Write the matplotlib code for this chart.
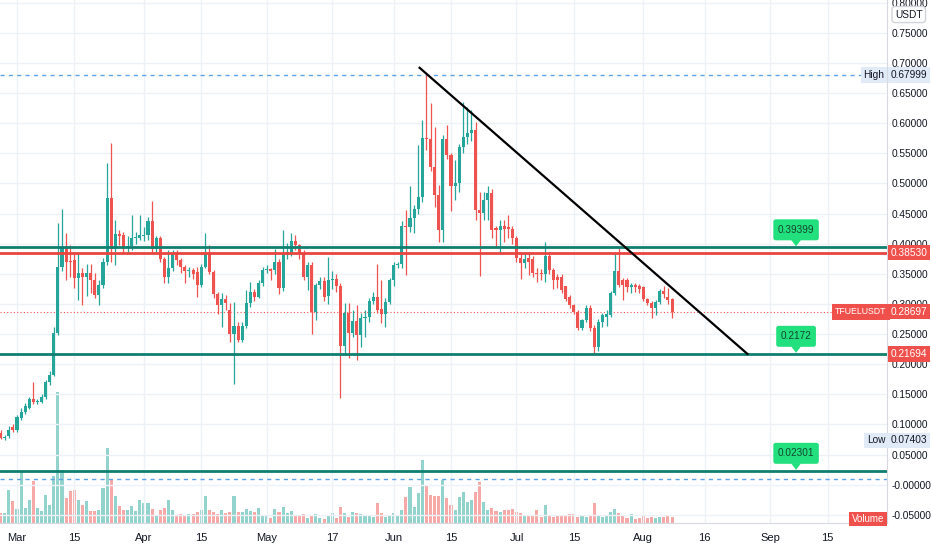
import numpy as np
import pandas as pd
import matplotlib
matplotlib.use("Agg")
import matplotlib.pyplot as plt
import matplotlib.transforms as mtransforms
from matplotlib.patches import FancyBboxPatch, Polygon

plt.rcParams['font.family'] = ['Liberation Sans', 'DejaVu Sans']

# daily TFUEL/USDT candles, first candle 2021-02-25
start_date = "2021-02-25"
opens = [0.086, 0.077, 0.080, 0.095, 0.091, 0.111, 0.121, 0.128, 0.142, 0.138, 0.138, 0.145, 0.170, 0.182, 0.251,
         0.362, 0.393, 0.372, 0.373, 0.343, 0.351, 0.344, 0.351, 0.340, 0.315, 0.331, 0.370, 0.476, 0.391, 0.416,
         0.414, 0.393, 0.397, 0.409, 0.410, 0.413, 0.414, 0.437, 0.392, 0.409, 0.375, 0.345, 0.359, 0.384, 0.373,
         0.361, 0.354, 0.357, 0.353, 0.331, 0.362, 0.384, 0.353, 0.317, 0.298, 0.309, 0.290, 0.250, 0.263, 0.240,
         0.263, 0.301, 0.319, 0.312, 0.334, 0.357, 0.358, 0.356, 0.370, 0.327, 0.382, 0.385, 0.404, 0.398, 0.385,
         0.345, 0.364, 0.286, 0.331, 0.338, 0.313, 0.340, 0.342, 0.329, 0.230, 0.285, 0.252, 0.272, 0.248, 0.277,
         0.279, 0.305, 0.311, 0.292, 0.284, 0.303, 0.339, 0.365, 0.366, 0.430, 0.428, 0.442, 0.457, 0.477, 0.576,
         0.573, 0.528, 0.481, 0.422, 0.573, 0.547, 0.496, 0.500, 0.560, 0.577, 0.584, 0.588, 0.456, 0.451, 0.473,
         0.484, 0.426, 0.423, 0.430, 0.428, 0.425, 0.409, 0.376, 0.368, 0.376, 0.374, 0.352, 0.352, 0.350, 0.380,
         0.357, 0.344, 0.344, 0.329, 0.311, 0.298, 0.287, 0.260, 0.273, 0.294, 0.260, 0.229, 0.270, 0.279, 0.282,
         0.318, 0.355, 0.340, 0.339, 0.328, 0.331, 0.330, 0.328, 0.308, 0.302, 0.293, 0.304, 0.322, 0.311, 0.309]
highs = [0.090, 0.083, 0.097, 0.100, 0.115, 0.128, 0.135, 0.146, 0.170, 0.143, 0.150, 0.173, 0.188, 0.262, 0.435,
         0.458, 0.417, 0.398, 0.384, 0.385, 0.360, 0.367, 0.367, 0.352, 0.340, 0.376, 0.534, 0.567, 0.440, 0.423,
         0.420, 0.412, 0.448, 0.420, 0.448, 0.428, 0.445, 0.471, 0.412, 0.412, 0.378, 0.390, 0.390, 0.390, 0.376,
         0.365, 0.362, 0.360, 0.362, 0.366, 0.417, 0.398, 0.357, 0.320, 0.318, 0.315, 0.301, 0.304, 0.270, 0.270,
         0.323, 0.337, 0.325, 0.340, 0.362, 0.365, 0.360, 0.392, 0.375, 0.423, 0.401, 0.417, 0.414, 0.400, 0.390,
         0.370, 0.370, 0.335, 0.345, 0.345, 0.378, 0.355, 0.350, 0.335, 0.301, 0.301, 0.290, 0.298, 0.285, 0.290,
         0.310, 0.320, 0.366, 0.339, 0.310, 0.343, 0.370, 0.370, 0.437, 0.456, 0.496, 0.465, 0.564, 0.605, 0.680,
         0.633, 0.594, 0.497, 0.580, 0.597, 0.550, 0.539, 0.565, 0.636, 0.627, 0.622, 0.602, 0.486, 0.486, 0.496,
         0.490, 0.430, 0.440, 0.440, 0.448, 0.430, 0.413, 0.384, 0.385, 0.387, 0.380, 0.360, 0.358, 0.403, 0.385,
         0.360, 0.350, 0.350, 0.330, 0.315, 0.300, 0.290, 0.275, 0.298, 0.298, 0.265, 0.275, 0.285, 0.290, 0.322,
         0.384, 0.393, 0.343, 0.343, 0.335, 0.335, 0.333, 0.330, 0.310, 0.305, 0.307, 0.325, 0.329, 0.326, 0.310]
lows = [0.076, 0.074, 0.078, 0.088, 0.088, 0.108, 0.118, 0.125, 0.134, 0.134, 0.136, 0.143, 0.165, 0.180, 0.249,
        0.355, 0.340, 0.345, 0.326, 0.307, 0.298, 0.314, 0.318, 0.310, 0.298, 0.326, 0.365, 0.370, 0.365, 0.398,
        0.385, 0.384, 0.390, 0.400, 0.406, 0.405, 0.406, 0.385, 0.385, 0.370, 0.334, 0.334, 0.355, 0.365, 0.351,
        0.334, 0.345, 0.342, 0.312, 0.328, 0.360, 0.350, 0.310, 0.284, 0.262, 0.290, 0.237, 0.167, 0.237, 0.237,
        0.260, 0.295, 0.305, 0.310, 0.330, 0.352, 0.340, 0.350, 0.317, 0.322, 0.375, 0.380, 0.390, 0.375, 0.340,
        0.323, 0.250, 0.274, 0.325, 0.305, 0.300, 0.325, 0.320, 0.144, 0.215, 0.210, 0.245, 0.207, 0.229, 0.245,
        0.270, 0.300, 0.285, 0.268, 0.262, 0.300, 0.329, 0.360, 0.360, 0.348, 0.420, 0.417, 0.450, 0.470, 0.556,
        0.520, 0.461, 0.403, 0.403, 0.540, 0.455, 0.472, 0.486, 0.550, 0.565, 0.570, 0.440, 0.346, 0.440, 0.440,
        0.409, 0.395, 0.384, 0.403, 0.410, 0.400, 0.370, 0.342, 0.360, 0.348, 0.345, 0.337, 0.340, 0.337, 0.350,
        0.324, 0.326, 0.318, 0.305, 0.293, 0.283, 0.257, 0.256, 0.270, 0.255, 0.217, 0.222, 0.262, 0.264, 0.278,
        0.315, 0.328, 0.307, 0.320, 0.318, 0.320, 0.318, 0.305, 0.298, 0.276, 0.282, 0.300, 0.310, 0.300, 0.276]
closes = [0.077, 0.079, 0.091, 0.091, 0.112, 0.121, 0.130, 0.142, 0.138, 0.139, 0.146, 0.170, 0.182, 0.251, 0.362,
          0.395, 0.370, 0.370, 0.343, 0.351, 0.344, 0.351, 0.340, 0.315, 0.331, 0.370, 0.476, 0.391, 0.416, 0.413,
          0.392, 0.397, 0.409, 0.411, 0.414, 0.415, 0.438, 0.392, 0.409, 0.375, 0.345, 0.359, 0.384, 0.373, 0.361,
          0.354, 0.357, 0.350, 0.331, 0.362, 0.384, 0.353, 0.317, 0.298, 0.309, 0.301, 0.250, 0.263, 0.240, 0.263,
          0.301, 0.319, 0.312, 0.334, 0.357, 0.358, 0.354, 0.370, 0.327, 0.384, 0.387, 0.404, 0.398, 0.384, 0.345,
          0.364, 0.286, 0.331, 0.338, 0.312, 0.340, 0.342, 0.329, 0.230, 0.285, 0.252, 0.272, 0.248, 0.277, 0.279,
          0.305, 0.311, 0.290, 0.284, 0.303, 0.339, 0.365, 0.367, 0.430, 0.428, 0.442, 0.457, 0.477, 0.576, 0.573,
          0.528, 0.481, 0.422, 0.573, 0.547, 0.496, 0.500, 0.560, 0.577, 0.584, 0.588, 0.456, 0.451, 0.473, 0.484,
          0.423, 0.422, 0.430, 0.425, 0.425, 0.409, 0.376, 0.368, 0.374, 0.370, 0.352, 0.350, 0.350, 0.380, 0.357,
          0.339, 0.340, 0.323, 0.309, 0.298, 0.287, 0.260, 0.273, 0.294, 0.260, 0.229, 0.270, 0.282, 0.284, 0.318,
          0.355, 0.331, 0.331, 0.328, 0.331, 0.328, 0.324, 0.308, 0.302, 0.293, 0.304, 0.322, 0.316, 0.306, 0.287]
volumes = [10, 10, 33, 22, 14, 52, 15, 23, 42, 15, 12, 28, 18, 47, 131, 53, 25, 32, 33, 23, 18, 22, 12, 12, 13,
           35, 75, 43, 27, 17, 13, 13, 17, 12, 23, 20, 20, 14, 8, 13, 15, 23, 13, 8, 9, 8, 9, 9, 11, 13, 27, 13,
           11, 9, 13, 10, 11, 27, 11, 11, 14, 12, 11, 15, 8, 7, 5, 14, 11, 16, 10, 12, 7, 7, 9, 5, 7, 9, 5, 4, 7,
           10, 5, 16, 10, 6, 11, 10, 9, 7, 7, 6, 20, 10, 6, 7, 10, 7, 13, 26, 36, 16, 30, 63, 38, 28, 27, 27, 43,
           25, 18, 13, 26, 31, 21, 23, 31, 41, 21, 13, 15, 12, 11, 13, 13, 14, 11, 10, 7, 7, 8, 13, 6, 18, 8, 6, 7,
           7, 8, 9, 9, 6, 8, 6, 8, 20, 8, 6, 8, 11, 14, 10, 8, 5, 9, 4, 5, 7, 5, 6, 5, 6, 6, 8, 6]

# drawn levels
teal_levels = [0.39399, 0.2172, 0.02301]
callout_texts = ["0.39399", "0.2172", "0.02301"]
red_level = 0.38530
last_price = 0.28697
high_price, low_price = 0.67999, 0.07403
low_guide = 0.010
trend_dates = ["2021-06-07 08:00", "2021-08-26 10:00"]
trend_prices = [0.692, 0.217]
callout_date = "2021-09-07 07:00"

tick_dates = ["2021-03-01", "2021-03-15", "2021-04-01", "2021-04-15", "2021-05-01", "2021-05-17", "2021-06-01",
              "2021-06-15", "2021-07-01", "2021-07-15", "2021-08-01", "2021-08-16", "2021-09-01", "2021-09-15"]
tick_labels = ["Mar", "15", "Apr", "15", "May", "17", "Jun", "15", "Jul", "15", "Aug", "16", "Sep", "15"]
price_ticks = [round(-0.05 + 0.05 * i, 2) for i in range(18)]

GREEN, RED = "#26a69a", "#ef5350"
TEAL = "#0f7f70"
TEXT = "#131722"
LABEL = "#f0504b"
PALE = "#e1eaf7"
CALLOUT = "#23e07f"

base = pd.Timestamp("2021-03-01")
def day(s):
    return (pd.Timestamp(s) - base) / pd.Timedelta(days=1)

o, h, l, c = map(np.array, (opens, highs, lows, closes))
x = day(start_date) + np.arange(len(o))
up = c >= o
colors = np.where(up, GREEN, RED)
vol_colors = np.where(up, "#93d3cd", "#f7a9a8")

fig = plt.figure(figsize=(9.32, 5.5), dpi=100)
ax = fig.add_axes([0, 27 / 550, 887 / 932, 523 / 550])
vax = ax.twinx()
ax.set_zorder(vax.get_zorder() + 1)
ax.patch.set_visible(False)

# volume overlay at the bottom
vax.bar(x, volumes, width=0.75, color=vol_colors, linewidth=0)
vax.set_ylim(0, max(volumes) * 523 / 131)
vax.axis("off")

# candles
ax.vlines(x, l, h, colors=colors, linewidth=0.9, zorder=3)
ax.bar(x, np.maximum(np.abs(c - o), 0.0015), bottom=np.minimum(o, c), width=0.75,
       color=colors, linewidth=0, zorder=4)

for lvl in teal_levels:
    ax.axhline(lvl, color=TEAL, lw=2.0, zorder=5)
ax.axhline(red_level, color="#e8453f", lw=2.0, zorder=5)
ax.axhline(last_price, color=RED, lw=0.8, ls=(0, (1, 2)), zorder=2)
ax.axhline(high_price, color="#5ea3e6", lw=1.0, ls=(0, (3, 3)), zorder=2)
ax.axhline(low_guide, color="#5ea3e6", lw=1.0, ls=(0, (3, 3)), zorder=2)
ax.plot([day(d) for d in trend_dates], trend_prices, color="black", lw=1.6, zorder=6)

ax.set_xlim(-4.15, 212.5)
ax.set_ylim(-0.0636, 0.8045)

# green callouts over the levels (sizes in pixels, anchored on the level)
cx = day(callout_date)
renderer = fig.canvas.get_renderer()
for lvl, txt in zip(teal_levels, callout_texts):
    anchor = mtransforms.Affine2D() + mtransforms.ScaledTranslation(cx, lvl, ax.transData)
    t = ax.text(0, 17.5, txt, transform=anchor, ha="center", va="center", fontsize=7.2,
                color="#14452e", zorder=9, clip_on=False)
    w = t.get_window_extent(renderer).width + 9
    ax.add_patch(FancyBboxPatch((-w / 2, 7), w, 21, boxstyle="round,pad=0,rounding_size=2.5",
                                fc=CALLOUT, ec="none", transform=anchor, zorder=8, clip_on=False))
    ax.add_patch(Polygon([(-5, 7.5), (5, 7.5), (0, 1)], closed=True, fc=CALLOUT, ec="none",
                         transform=anchor, zorder=8, clip_on=False))

ax.set_xticks([day(d) for d in tick_dates])
ax.set_xticklabels(tick_labels)
ax.yaxis.tick_right()
ax.set_yticks(price_ticks)
ax.set_yticklabels(["-0.00000" if v == 0 else f"{v:.5f}" for v in price_ticks])
ax.tick_params(axis="both", length=0, labelsize=7.3, colors=TEXT)
ax.tick_params(axis="y", pad=3.2)
ax.tick_params(axis="x", pad=7, labelsize=8)
ax.set_axisbelow(True)
ax.grid(color="#eef1f6", lw=1)
for side in ("top", "left"):
    ax.spines[side].set_visible(False)
for side in ("right", "bottom"):
    ax.spines[side].set_color("#d6d9e0")

# price-scale labels
trans = mtransforms.blended_transform_factory(ax.transAxes, ax.transData)
def scale_box(xf, y, txt, fc, tc="white", ec="none", size=7.3, style="square,pad=0.25"):
    ax.text(xf, y, txt, transform=trans, ha="center", va="center", fontsize=size, color=tc, zorder=10,
            clip_on=False, bbox=dict(boxstyle=style, fc=fc, ec=ec))

scale_box(1.0245, red_level, "0.38530", LABEL)
scale_box(1.0245, last_price, "0.28697", LABEL)
scale_box(0.9705, last_price, "TFUELUSDT", LABEL, size=6.3, style="square,pad=0.4")
scale_box(1.0245, 0.21694, "0.21694", LABEL)
scale_box(1.0245, high_price, "0.67999", PALE, tc=TEXT)
scale_box(0.9850, high_price, "High", PALE, tc=TEXT)
scale_box(1.0245, low_price, "0.07403", PALE, tc=TEXT)
scale_box(0.9875, low_price, "Low", PALE, tc=TEXT)
scale_box(0.9785, -0.0569, "Volume", LABEL, size=7)
scale_box(1.0245, 0.7804, "USDT", "white", tc=TEXT, ec="#d0d3da", style="round,pad=0.3,rounding_size=0.3")

fig.savefig("out.png", dpi=100, facecolor="white")
